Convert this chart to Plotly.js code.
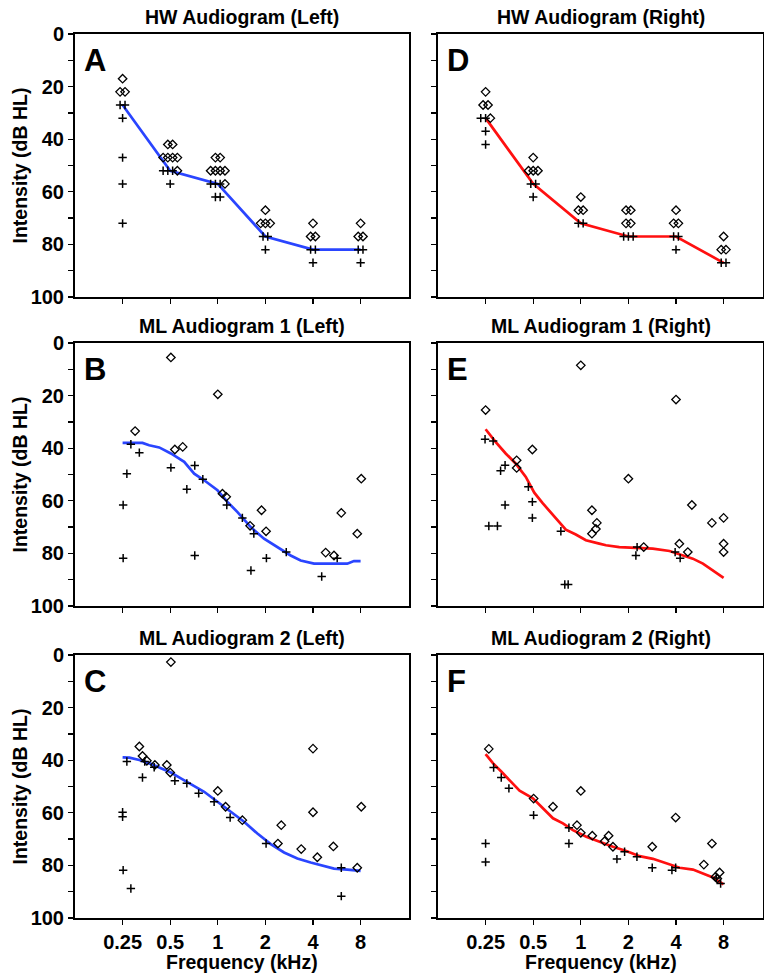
<!DOCTYPE html>
<html><head><meta charset="utf-8">
<script src="https://cdn.plot.ly/plotly-3.0.1.min.js"></script>
<style>html,body{margin:0;padding:0;overflow:hidden;background:#fff}</style>
</head><body><div id="chart" style="width:764px;height:979px"></div>
<script>
// ---------- Panel A : HW Audiogram (Left) ----------
const aDiaX = [0.25, 0.241, 0.259, 0.483, 0.518, 0.451, 0.483, 0.518, 0.555, 0.555, 0.966, 1.035, 0.901, 0.966, 1.035, 1.11, 1.11, 2, 1.866, 2, 2.144, 4, 3.864, 4.141, 8, 7.727, 8.282];
const aDiaY = [17, 22, 22, 42, 42, 47, 47, 47, 47, 52, 47, 47, 52, 52, 52, 52, 57, 67, 72, 72, 72, 72, 77, 77, 72, 77, 77];
const aPlusX = [0.241, 0.259, 0.25, 0.25, 0.25, 0.25, 0.451, 0.483, 0.518, 0.5, 0.901, 0.966, 1.035, 0.966, 1.035, 1.932, 2.07, 2, 3.864, 4.141, 4, 7.727, 8.282, 8];
const aPlusY = [27, 27, 32, 47, 57, 72, 52, 52, 52, 57, 57, 57, 57, 62, 62, 77, 77, 82, 82, 82, 87, 82, 82, 87];
const aLineX = [0.25, 0.5, 1, 2, 4, 8];
const aLineY = [27, 52, 57, 77, 82, 82];

// ---------- Panel D : HW Audiogram (Right) ----------
const dDiaX = [0.25, 0.241, 0.259, 0.268, 0.5, 0.467, 0.5, 0.536, 1, 0.966, 1.035, 1.932, 2.07, 1.932, 2.07, 4, 3.864, 4.141, 8, 7.727, 8.282];
const dDiaY = [22, 27, 27, 32, 47, 52, 52, 52, 62, 67, 67, 67, 67, 72, 72, 67, 72, 72, 77, 82, 82];
const dPlusX = [0.233, 0.25, 0.25, 0.25, 0.483, 0.518, 0.5, 0.966, 1.035, 1.866, 2, 2.144, 3.864, 4.141, 4, 7.727, 8.282];
const dPlusY = [32, 32, 37, 42, 57, 57, 62, 72, 72, 77, 77, 77, 77, 77, 82, 87, 87];
const dLineX = [0.25, 0.5, 1, 2, 4, 8];
const dLineY = [32, 57, 72, 77, 77, 87];

// ---------- Panel B : ML Audiogram 1 (Left) ----------
const bDiaX = [0.505, 1.0, 0.30, 0.535, 0.60, 1.07, 1.13, 1.89, 1.6, 2.02, 4.81, 5.43, 6.04, 7.62, 8.08];
const bDiaY = [5.5, 19.5, 33.5, 40.5, 39.5, 57.3, 58.5, 63.6, 69.5, 71.6, 79.7, 80.8, 64.6, 72.5, 51.6];
const bPlusX = [0.282, 0.319, 0.266, 0.252, 0.252, 0.505, 0.715, 0.804, 0.637, 0.715, 1.14, 1.43, 1.69, 1.62, 2.03, 2.71, 4.54, 5.69];
const bPlusY = [38.5, 41.7, 49.7, 61.6, 81.8, 47.4, 46.6, 51.8, 55.6, 80.8, 61.6, 66.5, 72.5, 86.5, 81.8, 79.5, 88.8, 81.8];
const bLineX = [0.25, 0.334, 0.368, 0.426, 0.505, 0.613, 0.709, 0.82, 0.995, 1.151, 1.332, 1.616, 1.96, 2.38, 2.89, 3.34, 4.06, 6.59, 7.26, 8.0];
const bLineY = [38.0, 38.0, 38.9, 39.7, 42.0, 45.2, 49.7, 52.2, 56.0, 60.4, 64.3, 70.0, 74.4, 77.6, 80.8, 82.7, 83.9, 83.9, 82.9, 82.9];

// ---------- Panel E : ML Audiogram 1 (Right) ----------
const eDiaX = [1.0, 0.25, 4.0, 0.494, 0.393, 0.393, 2.0, 1.176, 1.264, 1.246, 1.176, 5.04, 6.75, 8.0, 8.0, 8.0, 4.2, 4.75, 2.5];
const eDiaY = [8.5, 25.5, 21.5, 40.5, 44.6, 47.5, 51.6, 63.6, 68.4, 70.7, 72.5, 61.6, 68.4, 66.5, 76.3, 79.5, 76.3, 79.5, 77.6];
const ePlusX = [0.248, 0.279, 0.332, 0.311, 0.332, 0.262, 0.297, 0.466, 0.494, 0.494, 0.748, 0.792, 0.832, 2.27, 2.23, 3.95, 4.25];
const ePlusY = [36.6, 37.3, 46.5, 48.6, 61.6, 69.6, 69.6, 54.7, 60.4, 66.5, 71.6, 91.8, 91.8, 77.6, 80.8, 79.5, 81.8];
const eLineX = [0.25, 0.289, 0.335, 0.387, 0.449, 0.508, 0.572, 0.646, 0.73, 0.804, 0.93, 1.077, 1.309, 1.442, 1.752, 2.85, 3.64, 4.42, 5.11, 5.92, 6.85, 8.0];
const eLineY = [32.8, 37.6, 42.0, 45.8, 50.9, 56.9, 60.8, 64.6, 68.1, 71.0, 72.8, 75.0, 76.3, 76.9, 77.6, 78.2, 79.1, 80.8, 82.0, 83.9, 86.5, 89.3];

// ---------- Panel C : ML Audiogram 2 (Left) ----------
const cDiaX = [0.505, 0.319, 0.334, 0.356, 0.40, 0.476, 0.50, 1.0, 1.12, 1.43, 2.52, 2.4, 3.37, 4.0, 4.0, 4.26, 5.38, 7.62, 8.08];
const cDiaY = [2.7, 34.8, 38.4, 40.2, 41.8, 41.8, 44.7, 51.7, 57.7, 62.8, 64.7, 71.7, 73.8, 35.6, 59.8, 76.9, 72.8, 80.9, 57.7];
const cPlusX = [0.266, 0.334, 0.345, 0.396, 0.25, 0.25, 0.252, 0.282, 0.535, 0.637, 0.757, 0.948, 1.197, 2.02, 6.04, 6.04];
const cPlusY = [40.5, 46.6, 40.5, 42.7, 59.8, 61.5, 81.8, 88.8, 47.8, 48.8, 52.6, 55.8, 61.8, 71.7, 80.9, 91.7];
const cLineX = [0.25, 0.276, 0.319, 0.377, 0.437, 0.505, 0.584, 0.676, 0.82, 0.995, 1.208, 1.466, 1.78, 2.162, 2.625, 3.185, 3.866, 4.69, 5.43, 6.59, 8.0];
const cLineY = [38.9, 39.0, 39.9, 41.4, 43.1, 44.7, 46.9, 49.0, 52.0, 55.8, 59.6, 63.4, 67.9, 71.9, 75.1, 77.4, 78.9, 80.2, 81.2, 81.6, 82.1];

// ---------- Panel F : ML Audiogram 2 (Right) ----------
const fDiaX = [0.262, 0.503, 0.667, 1.0, 0.946, 1.0, 1.182, 1.414, 1.499, 1.597, 2.83, 3.98, 6.0, 6.75, 7.09, 7.55, 7.3];
const fDiaY = [35.7, 54.6, 57.7, 51.7, 64.7, 67.6, 68.7, 70.8, 68.7, 72.9, 72.9, 61.8, 79.7, 71.7, 84.4, 82.7, 85.0];
const fPlusX = [0.281, 0.314, 0.351, 0.25, 0.25, 0.503, 0.841, 0.841, 1.692, 1.892, 2.265, 2.83, 3.77, 3.98, 7.2, 7.66];
const fPlusY = [42.8, 46.6, 50.7, 71.7, 78.7, 60.9, 65.7, 71.7, 77.6, 74.8, 76.7, 80.9, 81.8, 80.9, 84.8, 86.9];
const fLineX = [0.25, 0.279, 0.314, 0.354, 0.41, 0.498, 0.576, 0.667, 0.771, 0.892, 1.083, 1.315, 1.597, 1.939, 2.354, 2.858, 3.473, 4.216, 5.12, 5.92, 6.85, 8.0];
const fLineY = [37.7, 41.2, 44.3, 47.5, 51.6, 54.5, 58.3, 62.1, 64.0, 66.6, 69.1, 71.0, 72.9, 74.5, 76.5, 77.5, 79.3, 80.9, 81.6, 83.1, 84.6, 87.2];

// ---------- labels ----------
const panelTitles = ["HW Audiogram (Left)", "HW Audiogram (Right)", "ML Audiogram 1 (Left)", "ML Audiogram 1 (Right)", "ML Audiogram 2 (Left)", "ML Audiogram 2 (Right)"];
const panelLetters = ["A", "D", "B", "E", "C", "F"];
const freqTicks = [0.25, 0.5, 1, 2, 4, 8];
const freqTickText = ["0.25", "0.5", "1", "2", "4", "8"];
const dbTicks = [0, 10, 20, 30, 40, 50, 60, 70, 80, 90, 100];
const dbTickText = ["0", "", "20", "", "40", "", "60", "", "80", "", "100"];
const yTitle = "Intensity (dB HL)";
const xTitle = "Frequency (kHz)";

const panels = [
  {dx: aDiaX, dy: aDiaY, px: aPlusX, py: aPlusY, lx: aLineX, ly: aLineY, col: '#2a45ff'},
  {dx: dDiaX, dy: dDiaY, px: dPlusX, py: dPlusY, lx: dLineX, ly: dLineY, col: '#ff1010'},
  {dx: bDiaX, dy: bDiaY, px: bPlusX, py: bPlusY, lx: bLineX, ly: bLineY, col: '#2a45ff'},
  {dx: eDiaX, dy: eDiaY, px: ePlusX, py: ePlusY, lx: eLineX, ly: eLineY, col: '#ff1010'},
  {dx: cDiaX, dy: cDiaY, px: cPlusX, py: cPlusY, lx: cLineX, ly: cLineY, col: '#2a45ff'},
  {dx: fDiaX, dy: fDiaY, px: fPlusX, py: fPlusY, lx: fLineX, ly: fLineY, col: '#ff1010'}
];

const W = 764, H = 979;
const FONT = 'Liberation Sans, Arial, sans-serif';
const colX = [[75, 409], [438, 763]];
const rowY = [[34, 297], [343, 606], [655, 918]];
const pxPerOct = 47.6;

const traces = [];
const layout = {
  width: W, height: H, margin: {l: 0, r: 0, t: 0, b: 0},
  paper_bgcolor: '#fff', plot_bgcolor: '#fff', showlegend: false,
  font: {family: FONT, color: '#000', size: 20},
  annotations: []
};

panels.forEach((p, i) => {
  const n = i + 1;
  const suf = n === 1 ? '' : String(n);
  const col = i % 2, row = Math.floor(i / 2);
  const xa = 'x' + suf, ya = 'y' + suf;
  traces.push({type: 'scatter', mode: 'lines', x: p.lx, y: p.ly, xaxis: xa, yaxis: ya,
    line: {color: p.col, width: 2.7}, hoverinfo: 'skip'});
  traces.push({type: 'scatter', mode: 'markers', x: p.px, y: p.py, xaxis: xa, yaxis: ya,
    marker: {symbol: 'cross-thin', size: 6, line: {color: '#000', width: 1.5}, color: '#000'}});
  traces.push({type: 'scatter', mode: 'markers', x: p.dx, y: p.dy, xaxis: xa, yaxis: ya,
    marker: {symbol: 'diamond-open', size: 6.5, color: '#000', line: {color: '#000', width: 1.3}}});

  const [x0, x1] = colX[col];
  const [y0, y1] = rowY[row];
  const left0 = 0.125;
  const octs = (x1 - x0) / pxPerOct;
  const lo = Math.log10(left0), hi = Math.log10(left0) + octs * Math.log10(2);
  layout['xaxis' + suf] = {
    domain: [x0 / W, x1 / W], anchor: ya, type: 'log', range: [lo, hi],
    tickmode: 'array', tickvals: freqTicks, ticktext: freqTickText,
    showticklabels: row === 2, ticks: 'outside', ticklen: 5, tickwidth: 1.3, tickcolor: '#000',
    showline: true, linecolor: '#000', linewidth: 2, mirror: true, showgrid: false, zeroline: false,
    tickfont: {family: FONT, size: 20, color: '#000', weight: 'bold'}
  };
  layout['yaxis' + suf] = {
    domain: [1 - y1 / H, 1 - y0 / H], anchor: xa, range: [100, 0],
    tickmode: 'array', tickvals: dbTicks, ticktext: dbTickText,
    showticklabels: col === 0, ticks: 'outside', ticklen: 5, tickwidth: 1.3, tickcolor: '#000',
    showline: true, linecolor: '#000', linewidth: 2, mirror: true, showgrid: false, zeroline: false,
    tickfont: {family: FONT, size: 20, color: '#000', weight: 'bold'}
  };
  layout.annotations.push({text: '<b>' + panelTitles[i] + '</b>', xref: xa + ' domain', yref: ya + ' domain',
    x: 0.5, y: 1, xanchor: 'center', yanchor: 'bottom', yshift: 4, showarrow: false,
    font: {family: FONT, size: 19.5, color: '#000'}});
  layout.annotations.push({text: '<b>' + panelLetters[i] + '</b>', xref: xa + ' domain', yref: ya + ' domain',
    x: 0.02, y: 0.975, xanchor: 'left', yanchor: 'top', showarrow: false,
    font: {family: FONT, size: 31, color: '#000'}});
  if (col === 0) {
    layout.annotations.push({text: '<b>' + yTitle + '</b>', xref: 'paper', yref: ya + ' domain',
      x: 19 / W, y: 0.5, xanchor: 'center', yanchor: 'middle', textangle: -90, showarrow: false,
      font: {family: FONT, size: 19.5, color: '#000'}});
  }
  if (row === 2) {
    layout.annotations.push({text: '<b>' + xTitle + '</b>', xref: xa + ' domain', yref: 'paper',
      x: 0.5, y: 1 - 962 / H, xanchor: 'center', yanchor: 'middle', showarrow: false,
      font: {family: FONT, size: 19.5, color: '#000'}});
  }
});

Plotly.newPlot('chart', traces, layout, {displayModeBar: false, staticPlot: true});
</script></body></html>
